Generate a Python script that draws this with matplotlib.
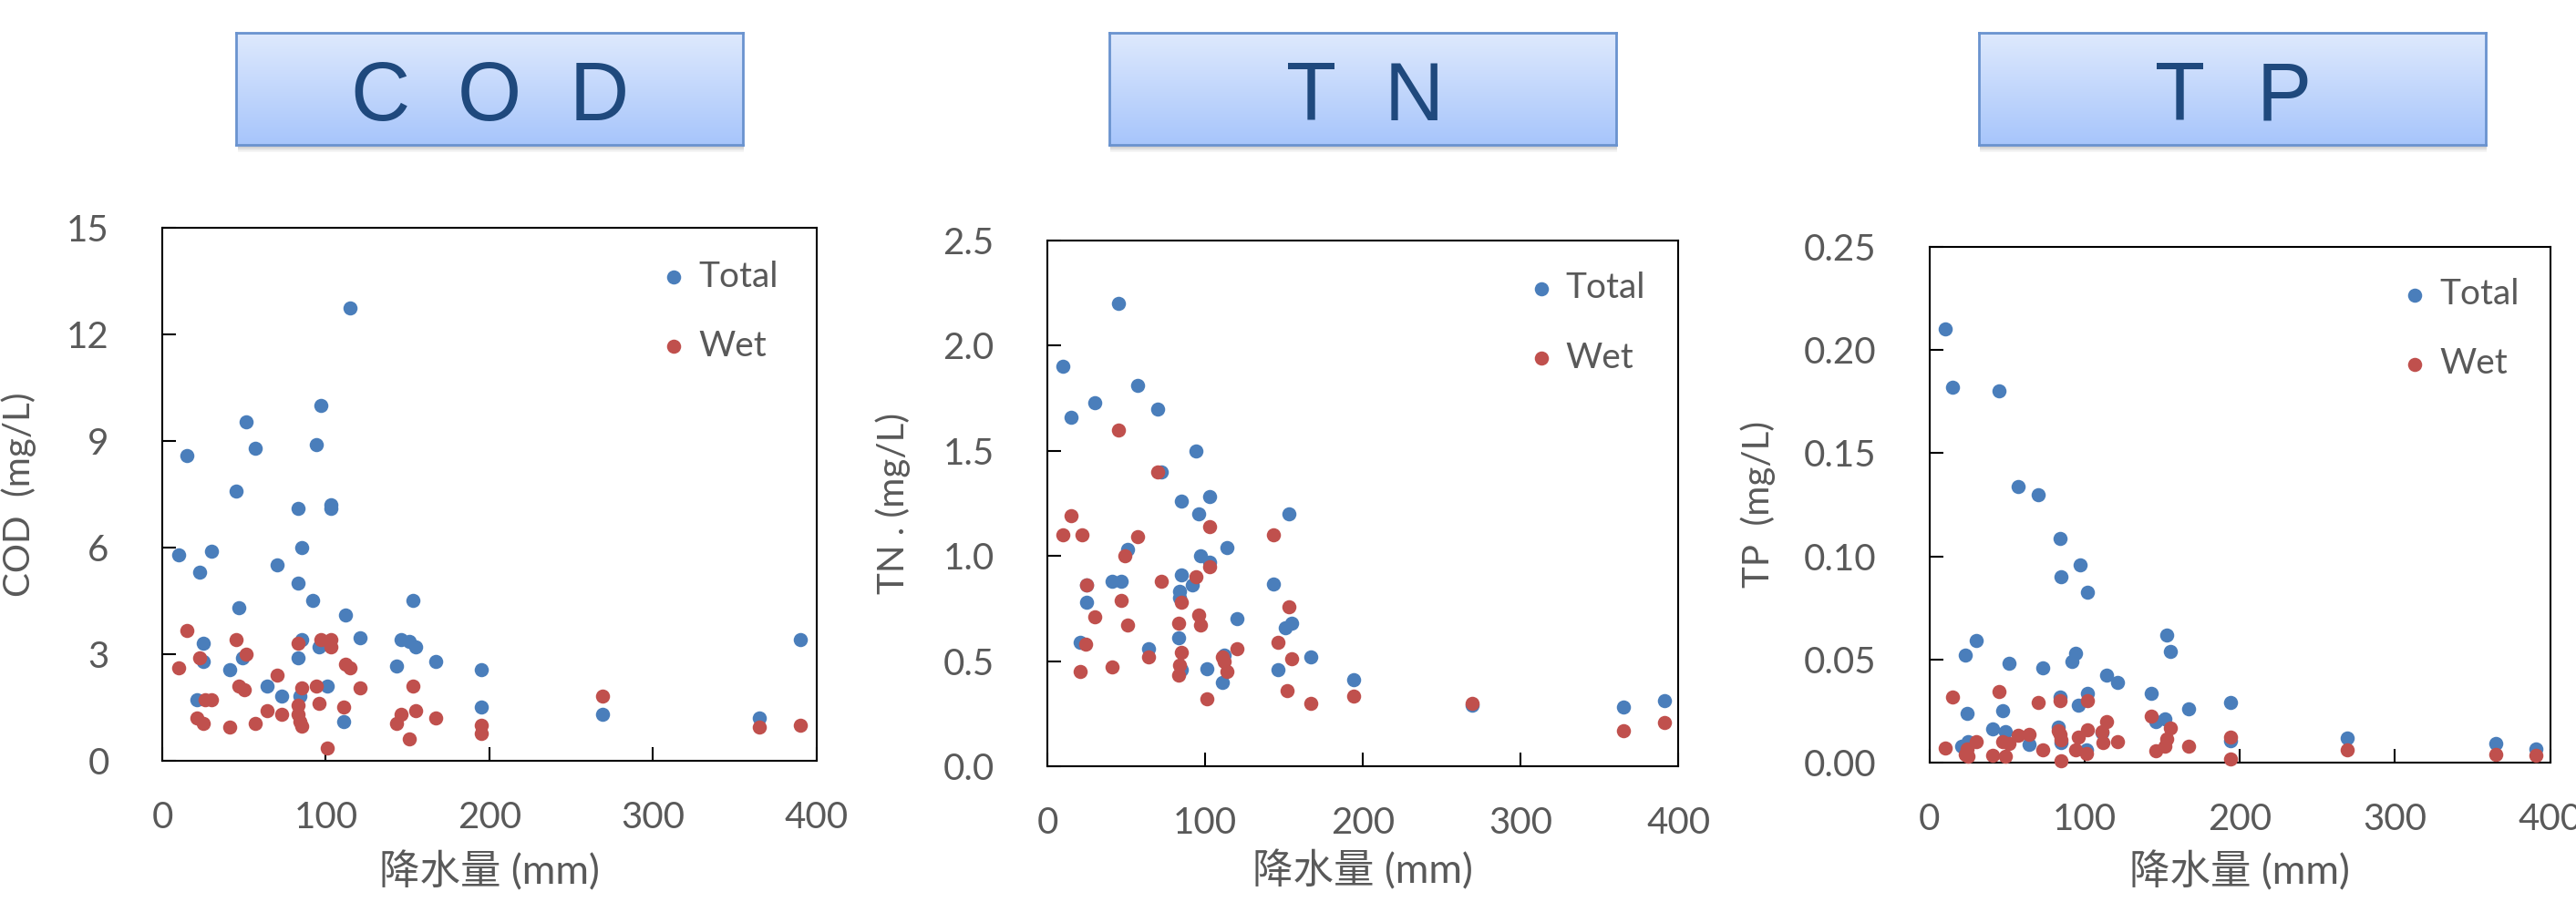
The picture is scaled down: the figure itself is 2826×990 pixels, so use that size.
import numpy as np
import matplotlib
matplotlib.use("Agg")
import matplotlib.pyplot as plt
from matplotlib.patches import Rectangle

plt.rcParams["font.family"] = ["Lato", "Noto Sans CJK SC", "DejaVu Sans"]

# ---- data ----
cod_total_x = [10, 15, 23, 25, 25, 21, 30, 41, 45, 47, 49, 51, 57, 64, 70, 73, 83, 85, 83, 85,
               83, 84, 92, 94, 97, 96, 101, 103, 103, 111, 112, 115, 121, 143, 146, 151, 155, 153,
               167, 195, 195, 269, 365, 390]
cod_total = [5.8, 8.6, 5.3, 3.3, 2.8, 1.7, 5.9, 2.55, 7.6, 4.3, 2.9, 9.55, 8.8, 2.1, 5.5, 1.8, 7.1,
             6.0, 5.0, 3.4, 2.9, 1.8, 4.5, 8.9, 10.0, 3.2, 2.1, 7.2, 7.1, 1.1, 4.1, 12.75, 3.45,
             2.65, 3.4, 3.35, 3.2, 4.5, 2.8, 2.55, 1.5, 1.3, 1.2, 3.4]
cod_wet_x = [10, 15, 23, 21, 25, 26, 30, 41, 45, 47, 50, 51, 57, 64, 70, 73, 83, 85, 83, 83,
             84, 85, 94, 96, 97, 103, 103, 101, 111, 112, 115, 121, 143, 146, 151, 153, 155, 167,
             195, 195, 269, 365, 390]
cod_wet = [2.6, 3.65, 2.9, 1.2, 1.05, 1.7, 1.7, 0.95, 3.4, 2.1, 2.0, 3.0, 1.05, 1.4, 2.4, 1.3, 3.3,
           2.05, 1.55, 1.3, 1.1, 0.97, 2.1, 1.6, 3.4, 3.4, 3.2, 0.35, 1.5, 2.7, 2.6, 2.05, 1.05,
           1.3, 0.6, 2.1, 1.4, 1.2, 1.0, 0.75, 1.8, 0.95, 1.0]

tn_total_x = [10, 15, 21, 25, 25, 30, 41, 45, 47, 51, 57, 64, 70, 72, 85, 85, 84, 84, 83, 85,
              92, 94, 96, 97, 103, 103, 101, 111, 112, 114, 120, 143, 146, 151, 155, 153, 167,
              194, 269, 365, 391]
tn_total = [1.90, 1.66, 0.59, 0.78, 0.86, 1.73, 0.88, 2.20, 0.88, 1.03, 1.81, 0.56, 1.70, 1.40,
            1.26, 0.91, 0.83, 0.80, 0.61, 0.46, 0.86, 1.50, 1.20, 1.00, 0.97, 1.28, 0.465, 0.40,
            0.53, 1.04, 0.70, 0.865, 0.46, 0.66, 0.68, 1.20, 0.52, 0.41, 0.29, 0.28, 0.31]
tn_wet_x = [10, 15, 21, 22, 24, 25, 30, 41, 45, 47, 49, 51, 57, 64, 70, 72, 83, 85, 85, 84,
            83, 94, 96, 97, 103, 103, 101, 111, 112, 114, 120, 143, 146, 152, 153, 155, 167,
            194, 269, 365, 391]
tn_wet = [1.10, 1.19, 0.45, 1.10, 0.58, 0.86, 0.71, 0.47, 1.60, 0.79, 1.00, 0.67, 1.09, 0.52,
          1.40, 0.88, 0.68, 0.54, 0.78, 0.48, 0.435, 0.90, 0.72, 0.67, 1.14, 0.95, 0.32, 0.52,
          0.50, 0.45, 0.56, 1.10, 0.59, 0.36, 0.76, 0.51, 0.30, 0.335, 0.30, 0.17, 0.21]

tp_total_x = [10, 15, 23, 24, 21, 25, 30, 41, 45, 47, 49, 51, 57, 64, 70, 73, 84, 85, 84, 83,
              85, 92, 94, 96, 97, 102, 102, 101, 111, 114, 121, 143, 146, 152, 153, 155, 167,
              194, 194, 269, 365, 391]
tp_total = [0.210, 0.182, 0.052, 0.024, 0.008, 0.010, 0.059, 0.0165, 0.180, 0.025, 0.015, 0.048,
            0.134, 0.009, 0.130, 0.046, 0.1085, 0.090, 0.032, 0.0173, 0.0098, 0.049, 0.053,
            0.028, 0.096, 0.0825, 0.0336, 0.006, 0.0147, 0.0425, 0.039, 0.0334, 0.020, 0.021,
            0.062, 0.054, 0.026, 0.029, 0.0107, 0.012, 0.0091, 0.0067]
tp_wet_x = [10, 15, 23, 24, 25, 30, 41, 45, 47, 49, 51, 57, 64, 70, 73, 84, 83, 84, 85, 85,
            94, 96, 101, 102, 102, 111, 112, 114, 121, 143, 146, 152, 153, 155, 167, 194, 194,
            269, 365, 391]
tp_wet = [0.0071, 0.0318, 0.0042, 0.0067, 0.0029, 0.0102, 0.0036, 0.0343, 0.010, 0.0031, 0.0093,
          0.0133, 0.0138, 0.029, 0.006, 0.030, 0.0156, 0.0136, 0.0109, 0.0011, 0.006, 0.0122,
          0.0044, 0.030, 0.016, 0.0149, 0.0098, 0.020, 0.0102, 0.0227, 0.0056, 0.0078, 0.0113,
          0.0169, 0.008, 0.0125, 0.002, 0.006, 0.004, 0.0036]

titles = ["COD", "TN", "TP"]
ylabels = ["COD  (mg/L)", "TN . (mg/L)", "TP  (mg/L)"]
xlabel = "降水量 (mm)"
yticks = [[0, 3, 6, 9, 12, 15], [0, 0.5, 1.0, 1.5, 2.0, 2.5], [0, 0.05, 0.10, 0.15, 0.20, 0.25]]
yfmt = ["{:.0f}", "{:.1f}", "{:.2f}"]

BLUE = "#4A7EBB"
RED = "#C0504D"
GRAY = "#595959"
TITLE_BLUE = "#1F497D"

fig = plt.figure(figsize=(28.26, 9.9), dpi=100)

# axes rectangles (figure fractions)
axes_pos = [
    [0.063, 0.157, 0.254, 0.590],
    [0.4066, 0.1505, 0.245, 0.583],
    [0.749, 0.1545, 0.241, 0.572],
]
label_x = [-0.192, -0.216, -0.247]
xlabel_pad = [13, 8, 11]
box_left = [0.0917, 0.4306, 0.7682]
letter_step = [0.216, 0.203, 0.205]

series = [
    (cod_total_x, cod_total, cod_wet_x, cod_wet),
    (tn_total_x, tn_total, tn_wet_x, tn_wet),
    (tp_total_x, tp_total, tp_wet_x, tp_wet),
]

for i in range(3):
    ax = fig.add_axes(axes_pos[i])
    tx, ty, wx, wy = series[i]
    ax.scatter(tx, ty, s=125, color=BLUE, linewidths=0, label="Total", clip_on=False, zorder=3)
    ax.scatter(wx, wy, s=125, color=RED, linewidths=0, label="Wet", clip_on=False, zorder=4)

    ax.set_xlim(0, 400)
    ax.set_ylim(yticks[i][0], yticks[i][-1])
    ax.set_xticks([0, 100, 200, 300, 400])
    ax.set_yticks(yticks[i])
    ax.set_yticklabels([yfmt[i].format(v) for v in yticks[i]])

    for sp in ax.spines.values():
        sp.set_linewidth(1.5)
        sp.set_color("black")
    ax.tick_params(direction="in", length=11, width=1.5, labelsize=29, colors=GRAY,
                   top=False, right=False)
    ax.tick_params(axis="x", pad=32, color="black")
    ax.tick_params(axis="y", pad=42, color="black")

    ax.set_xlabel(xlabel, fontsize=32, color=GRAY, labelpad=xlabel_pad[i])
    ax.set_ylabel(ylabels[i], fontsize=29, color=GRAY)
    ax.yaxis.set_label_coords(label_x[i], 0.5)

    leg = ax.legend(loc="upper left", bbox_to_anchor=(0.768, 0.94), frameon=False,
                    fontsize=28, handlelength=0.5, handletextpad=0.45, labelspacing=1.03,
                    borderpad=0, borderaxespad=0)
    for t in leg.get_texts():
        t.set_color(GRAY)

    # title box with gradient and soft shadow
    bw, bh = 0.1967, 0.1242
    bb = 0.8394
    for k, a in enumerate([0.10, 0.08, 0.06, 0.04]):
        off = (k + 1) * 2 / 990
        fig.patches.append(Rectangle((box_left[i] + 0.0005, bb - off), bw, bh,
                                     transform=fig.transFigure, facecolor="black",
                                     edgecolor="none", alpha=a, zorder=1))
    bax = fig.add_axes([box_left[i], bb, bw, bh], zorder=5)
    grad = np.linspace(0, 1, 256).reshape(-1, 1)
    top = np.array([0.871, 0.914, 0.992])
    bot = np.array([0.655, 0.773, 0.984])
    img = top + (bot - top) * grad[:, :, None] * np.ones((1, 1, 3))
    bax.imshow(img, aspect="auto", extent=(0, 1, 0, 1), origin="upper")
    bax.set_xlim(0, 1)
    bax.set_ylim(0, 1)
    bax.set_xticks([])
    bax.set_yticks([])
    for sp in bax.spines.values():
        sp.set_color("#6A93CF")
        sp.set_linewidth(2)
    letters = list(titles[i])
    step = letter_step[i]
    start = 0.5 - step * (len(letters) - 1) / 2
    for j, ch in enumerate(letters):
        bax.text(start + j * step, 0.22, ch, ha="center", va="baseline", fontsize=65,
                 color=TITLE_BLUE, family=["Liberation Sans", "DejaVu Sans"])

fig.savefig("out.png", dpi=100)
